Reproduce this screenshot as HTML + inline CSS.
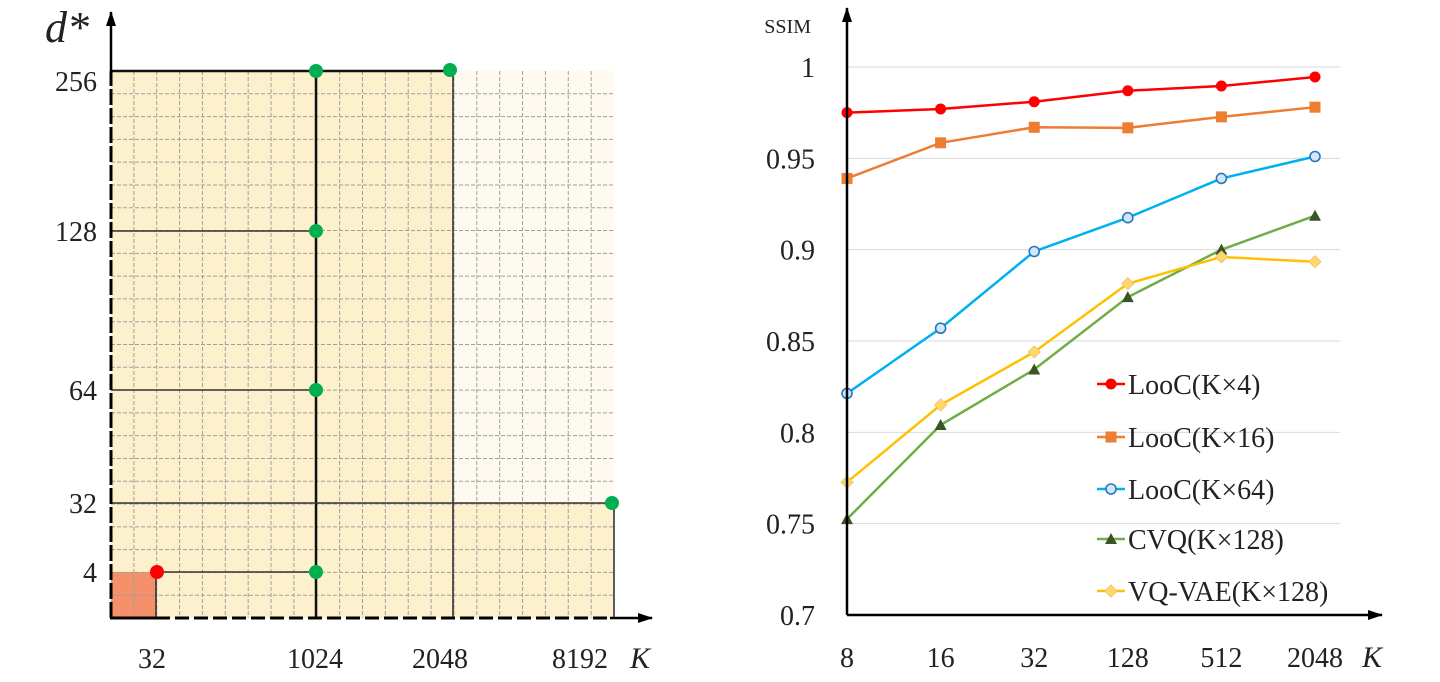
<!DOCTYPE html>
<html><head><meta charset="utf-8"><style>
html,body{margin:0;padding:0;background:#fff;width:1440px;height:682px;overflow:hidden}
text{font-family:"Liberation Serif",serif;fill:#222}
</style></head><body>
<svg id="svg" width="1440" height="682" viewBox="0 0 1440 682" xmlns="http://www.w3.org/2000/svg">
<defs>
<marker id="ar" markerUnits="userSpaceOnUse" markerWidth="16" markerHeight="14" refX="14" refY="7" orient="auto"><path d="M0,2 L15,7 L0,12 z" fill="#000"/></marker>
</defs>
<g id="left">
<rect x="111" y="71" width="342" height="547" fill="#fdf0cc"/>
<rect x="453" y="503" width="161" height="115" fill="#fdf0cc"/>
<rect x="453" y="71" width="161" height="432" fill="#fffaf0"/>
<rect x="111" y="572" width="45" height="46" fill="#f4906a"/>
<g id="grid" stroke="#a0a0a0" stroke-width="1" stroke-dasharray="4,2"></g>
<g stroke="#333" stroke-width="1.6" fill="none">
<path d="M111,71 H453" stroke="#111" stroke-width="2.5"/>
<path d="M453,71 V618"/>
<path d="M316,71 V618" stroke="#111" stroke-width="2.5"/>
<path d="M111,231 H316"/>
<path d="M111,390 H316"/>
<path d="M111,503 H614 V618"/>
<path d="M156,572 H316"/>
<path d="M156,572 V618"/>
</g>
<line x1="111" y1="618" x2="111" y2="71" stroke="#000" stroke-width="3" stroke-dasharray="16,3"/>
<line x1="111" y1="72" x2="111" y2="12" stroke="#000" stroke-width="2.5" marker-end="url(#ar)"/>
<line x1="110" y1="618" x2="156" y2="618" stroke="#000" stroke-width="3"/>
<line x1="156" y1="618" x2="612" y2="618" stroke="#000" stroke-width="3" stroke-dasharray="14,5"/>
<line x1="610" y1="618" x2="652" y2="618" stroke="#000" stroke-width="2.5" marker-end="url(#ar)"/>
<g fill="#00b050">
<circle cx="316" cy="71" r="7"/><circle cx="450" cy="70" r="7"/><circle cx="316" cy="231" r="7"/><circle cx="316" cy="390" r="7"/><circle cx="316" cy="572" r="7"/><circle cx="612" cy="503" r="7"/>
</g>
<circle cx="157" cy="572" r="7" fill="#ff0000"/>
<g font-size="28" text-anchor="end">
<text x="97" y="91">256</text>
<text x="97" y="241">128</text>
<text x="97" y="400">64</text>
<text x="97" y="513">32</text>
<text x="97" y="582">4</text>
</g>
<g font-size="28" text-anchor="middle">
<text x="152" y="668">32</text>
<text x="315" y="668">1024</text>
<text x="440" y="668">2048</text>
<text x="580" y="668">8192</text>
</g>
<text x="640" y="668" font-size="30" font-style="italic" text-anchor="middle">K</text>
<text x="45" y="42" font-size="44" font-style="italic">d*</text>
</g>
<g id="right">
<g id="rgrid"></g>
<g id="rlines"></g>
<line x1="847" y1="615" x2="847" y2="8" stroke="#000" stroke-width="2.5" marker-end="url(#ar)"/>
<line x1="847" y1="615" x2="1382" y2="615" stroke="#000" stroke-width="2.5" marker-end="url(#ar)"/>
<text x="811" y="33" font-size="20" text-anchor="end">SSIM</text>
<text x="1372" y="667" font-size="30" font-style="italic" text-anchor="middle">K</text>
<g id="legend"></g>
</g>
</svg>
<script>
const categories = ["8","16","32","128","512","2048"];
const yTicks = [0.7,0.75,0.8,0.85,0.9,0.95,1];
const yTickLabels = ["0.7","0.75","0.8","0.85","0.9","0.95","1"];
const seriesNames = ["LooC(K×4)","LooC(K×16)","LooC(K×64)","CVQ(K×128)","VQ-VAE(K×128)"];
const looc4 = [0.975,0.977,0.981,0.987,0.9896,0.9945];
const looc16 = [0.939,0.9585,0.967,0.9667,0.9727,0.978];
const looc64 = [0.8213,0.857,0.899,0.9175,0.939,0.951];
const cvq = [0.7525,0.804,0.8344,0.874,0.9,0.9186];
const vqvae = [0.7727,0.815,0.844,0.8814,0.896,0.8934];
const NS="http://www.w3.org/2000/svg";
function mk(tag,attrs,parent){const e=document.createElementNS(NS,tag);for(const k in attrs)e.setAttribute(k,attrs[k]);parent.appendChild(e);return e;}
const g=document.getElementById('grid');
for(let i=1;i<22;i++){const x=111+i*503/22;mk('line',{x1:x,y1:71,x2:x,y2:618},g);}
for(let i=1;i<24;i++){const y=71+i*547/24;mk('line',{x1:111,y1:y,x2:614,y2:y},g);}
const X=i=>847+i*93.6;
const Y=v=>615-(v-0.7)/0.3*548;
const rg=document.getElementById('rgrid');
yTicks.forEach((t,i)=>{
 if(i>0){const l=mk('line',{x1:847,y1:Y(t),x2:1340,y2:Y(t),stroke:'#d9d9d9','stroke-width':1},rg);
 
 }
 const tx=mk('text',{x:815,y:Y(t)+10,'font-size':28,'text-anchor':'end'},rg);tx.textContent=yTickLabels[i];
 
 
});
categories.forEach((c,i)=>{
 const tx=mk('text',{x:X(i),y:667,'font-size':28,'text-anchor':'middle'},rg);tx.textContent=c;
 
 
});
const series=[[looc4,'#ff0000','circle'],[looc16,'#ed7d31','square'],[looc64,'#00b0f0','ring'],[cvq,'#70ad47','tri'],[vqvae,'#ffc000','diamond']];
const rl=document.getElementById('rlines');
function marker(type,x,y,col,p){
 if(type==='circle')return mk('circle',{cx:x,cy:y,r:5.5,fill:col},p);
 if(type==='square')return mk('rect',{x:x-5.5,y:y-5.5,width:11,height:11,fill:col},p);
 if(type==='ring')return mk('circle',{cx:x,cy:y,r:5,fill:'#cfe8ff',stroke:'#2e75b6','stroke-width':1.6},p);
 if(type==='tri')return mk('path',{d:`M${x},${y-6} L${x+6},${y+5} L${x-6},${y+5} Z`,fill:'#375623'},p);
 return mk('path',{d:`M${x},${y-6} L${x+6},${y} L${x},${y+6} L${x-6},${y} Z`,fill:'#ffd966',stroke:'#f4c27a','stroke-width':1},p);
}
series.forEach((s,si)=>{
 const grp=mk('g',{},rl);
 
 
 const pl=mk('polyline',{points:s[0].map((v,i)=>X(i)+','+Y(v)).join(' '),fill:'none',stroke:s[1],'stroke-width':2.5},grp);
 
 
 s[0].forEach((v,i)=>{const m=marker(s[2],X(i),Y(v),s[1],grp);
  
  });
});
const lg=document.getElementById('legend');
const ly=[384,437,489,539,591];
series.forEach((s,i)=>{
 const it=mk('g',{},lg);
 
 
 mk('line',{x1:1097,y1:ly[i],x2:1125,y2:ly[i],stroke:s[1],'stroke-width':2.5},it);
 marker(s[2],1111,ly[i],s[1],it);
 const t=mk('text',{x:1128,y:ly[i]+10,'font-size':28},it);t.textContent=seriesNames[i];
});
</script>
</body></html>
